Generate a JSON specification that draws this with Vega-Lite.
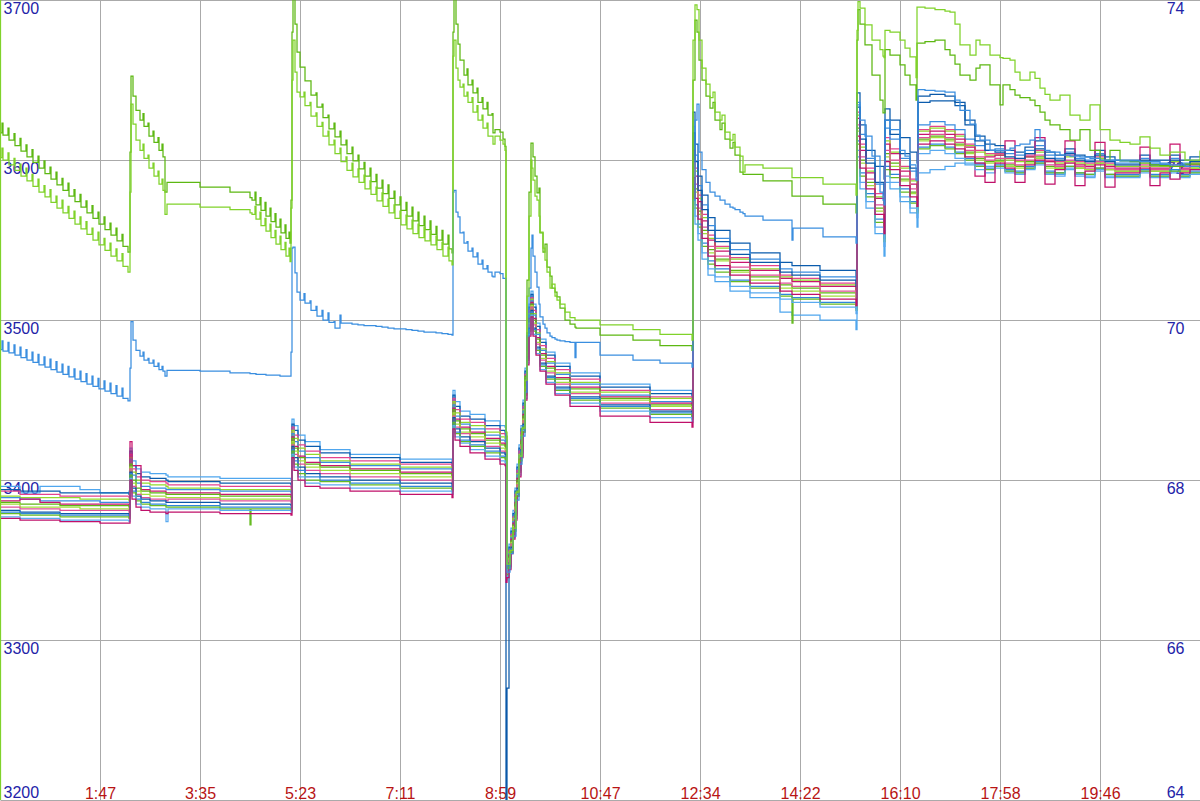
{
  "$schema": "https://vega.github.io/schema/vega-lite/v6.json",
  "width": 1200,
  "height": 800,
  "autosize": {"type": "none"},
  "padding": {"left": 0, "top": 0, "right": 0, "bottom": 1},
  "background": "#ffffff",
  "config": {
    "view": {"stroke": null},
    "axis": {
      "labelFont": "Liberation Sans",
      "labelFontSize": 16,
      "domain": false,
      "ticks": false,
      "tickSize": 0,
      "gridColor": "#aaaaaa",
      "gridOpacity": 1,
      "gridWidth": 1,
      "labelOverlap": false
    }
  },
  "datasets": {
    "cells": [
      {"n":0,"c01":3396,"c02":3394,"c03":3393,"c04":3390,"c05":3389,"c06":3387,"c07":3386,"c08":3385,"c09":3383,"c10":3381,"c11":3380,"c12":3379,"c13":3377,"c14":3376},
      {"n":20,"c01":3392,"c02":3393,"c03":3391,"c04":3389,"c05":3388,"c06":3388,"c07":3385,"c08":3383,"c09":3382,"c10":3380,"c11":3379,"c12":3378,"c13":3376,"c14":3375},
      {"n":40,"c01":3396,"c02":3393,"c03":3391,"c04":3389,"c05":3387,"c06":3386,"c07":3385,"c08":3383,"c09":3382,"c10":3380,"c11":3379,"c12":3378,"c13":3376,"c14":3375},
      {"n":60,"c01":3396,"c02":3392,"c03":3390,"c04":3389,"c05":3387,"c06":3385,"c07":3384,"c08":3383,"c09":3381,"c10":3379,"c11":3378,"c12":3377,"c13":3375,"c14":3374},
      {"n":80,"c01":3394,"c02":3392,"c03":3390,"c04":3388,"c05":3387,"c06":3385,"c07":3384,"c08":3382,"c09":3381,"c10":3379,"c11":3378,"c12":3377,"c13":3375,"c14":3374},
      {"n":100,"c01":3392,"c02":3392,"c03":3390,"c04":3388,"c05":3386,"c06":3385,"c07":3384,"c08":3382,"c09":3381,"c10":3379,"c11":3378,"c12":3377,"c13":3375,"c14":3373},
      {"n":129,"c01":3393,"c02":3391,"c03":3389,"c04":3387,"c05":3386,"c06":3384,"c07":3383,"c08":3381,"c09":3380,"c10":3378,"c11":3377,"c12":3376,"c13":3374,"c14":3373},
      {"n":130,"c01":3420,"c02":3418,"c03":3416,"c04":3414,"c05":3413,"c06":3424,"c07":3410,"c08":3408,"c09":3407,"c10":3405,"c11":3404,"c12":3403,"c13":3401,"c14":3400},
      {"n":132,"c01":3412,"c02":3409,"c03":3407,"c04":3405,"c05":3403,"c06":3409,"c07":3400,"c08":3398,"c09":3396,"c10":3395,"c11":3393,"c12":3392,"c13":3390,"c14":3388},
      {"n":136,"c01":3407,"c02":3404,"c03":3402,"c04":3400,"c05":3398,"c06":3409,"c07":3395,"c08":3393,"c09":3391,"c10":3390,"c11":3388,"c12":3387,"c13":3385,"c14":3383},
      {"n":141,"c01":3405,"c02":3402,"c03":3400,"c04":3398,"c05":3396,"c06":3394,"c07":3393,"c08":3391,"c09":3389,"c10":3388,"c11":3386,"c12":3385,"c13":3383,"c14":3381},
      {"n":150,"c01":3404,"c02":3401,"c03":3399,"c04":3397,"c05":3395,"c06":3393,"c07":3392,"c08":3390,"c09":3388,"c10":3387,"c11":3385,"c12":3384,"c13":3382,"c14":3380},
      {"n":166,"c01":3403,"c02":3400,"c03":3398,"c04":3396,"c05":3394,"c06":3392,"c07":3391,"c08":3389,"c09":3387,"c10":3386,"c11":3384,"c12":3383,"c13":3374,"c14":3379},
      {"n":168,"c01":3402,"c02":3399,"c03":3397,"c04":3395,"c05":3394,"c06":3392,"c07":3391,"c08":3389,"c09":3388,"c10":3386,"c11":3384,"c12":3383,"c13":3382,"c14":3380},
      {"n":220,"c01":3401,"c02":3398,"c03":3396,"c04":3394,"c05":3393,"c06":3391,"c07":3390,"c08":3388,"c09":3387,"c10":3385,"c11":3383,"c12":3382,"c13":3381,"c14":3379},
      {"n":250,"c01":3401,"c02":3398,"c03":3396,"c04":3394,"c05":3393,"c06":3391,"c07":3390,"c08":3388,"c09":3387,"c10":3385,"c11":3383,"c12":3372,"c13":3381,"c14":3379},
      {"n":251,"c01":3401,"c02":3398,"c03":3396,"c04":3394,"c05":3393,"c06":3391,"c07":3390,"c08":3388,"c09":3387,"c10":3385,"c11":3383,"c12":3382,"c13":3381,"c14":3379},
      {"n":291,"c01":3400,"c02":3397,"c03":3395,"c04":3393,"c05":3392,"c06":3390,"c07":3389,"c08":3387,"c09":3386,"c10":3384,"c11":3382,"c12":3381,"c13":3380,"c14":3378},
      {"n":292,"c01":3438,"c02":3435,"c03":3433,"c04":3431,"c05":3429,"c06":3427,"c07":3426,"c08":3424,"c09":3422,"c10":3421,"c11":3419,"c12":3418,"c13":3416,"c14":3414},
      {"n":294,"c01":3434,"c02":3431,"c03":3428,"c04":3426,"c05":3424,"c06":3421,"c07":3420,"c08":3418,"c09":3416,"c10":3414,"c11":3412,"c12":3410,"c13":3408,"c14":3406},
      {"n":298,"c01":3428,"c02":3425,"c03":3422,"c04":3420,"c05":3418,"c06":3415,"c07":3414,"c08":3412,"c09":3410,"c10":3408,"c11":3406,"c12":3404,"c13":3402,"c14":3400},
      {"n":305,"c01":3424,"c02":3421,"c03":3418,"c04":3416,"c05":3414,"c06":3411,"c07":3410,"c08":3408,"c09":3406,"c10":3404,"c11":3402,"c12":3400,"c13":3398,"c14":3396},
      {"n":320,"c01":3419,"c02":3417,"c03":3414,"c04":3412,"c05":3411,"c06":3409,"c07":3408,"c08":3406,"c09":3404,"c10":3402,"c11":3400,"c12":3399,"c13":3397,"c14":3395},
      {"n":350,"c01":3416,"c02":3414,"c03":3412,"c04":3410,"c05":3409,"c06":3407,"c07":3406,"c08":3404,"c09":3402,"c10":3400,"c11":3398,"c12":3397,"c13":3395,"c14":3393},
      {"n":400,"c01":3413,"c02":3411,"c03":3410,"c04":3408,"c05":3407,"c06":3405,"c07":3404,"c08":3402,"c09":3400,"c10":3398,"c11":3396,"c12":3395,"c13":3393,"c14":3391},
      {"n":452,"c01":3410,"c02":3408,"c03":3407,"c04":3406,"c05":3405,"c06":3403,"c07":3402,"c08":3400,"c09":3398,"c10":3396,"c11":3394,"c12":3393,"c13":3391,"c14":3389},
      {"n":453,"c01":3456,"c02":3453,"c03":3451,"c04":3449,"c05":3447,"c06":3445,"c07":3444,"c08":3442,"c09":3440,"c10":3439,"c11":3436,"c12":3436,"c13":3434,"c14":3432},
      {"n":455,"c01":3449,"c02":3446,"c03":3444,"c04":3442,"c05":3440,"c06":3438,"c07":3437,"c08":3435,"c09":3433,"c10":3432,"c11":3430,"c12":3429,"c13":3427,"c14":3425},
      {"n":460,"c01":3443,"c02":3440,"c03":3438,"c04":3436,"c05":3435,"c06":3433,"c07":3432,"c08":3430,"c09":3429,"c10":3427,"c11":3425,"c12":3424,"c13":3423,"c14":3421},
      {"n":470,"c01":3441,"c02":3438,"c03":3436,"c04":3434,"c05":3432,"c06":3430,"c07":3429,"c08":3427,"c09":3425,"c10":3424,"c11":3422,"c12":3421,"c13":3419,"c14":3417},
      {"n":485,"c01":3437,"c02":3434,"c03":3432,"c04":3430,"c05":3428,"c06":3426,"c07":3425,"c08":3423,"c09":3421,"c10":3420,"c11":3418,"c12":3417,"c13":3415,"c14":3413},
      {"n":500,"c01":3434,"c02":3431,"c03":3429,"c04":3427,"c05":3425,"c06":3423,"c07":3422,"c08":3420,"c09":3418,"c10":3417,"c11":3415,"c12":3414,"c13":3412,"c14":3410},
      {"n":505,"c01":3433,"c02":3430,"c03":3428,"c04":3426,"c05":3424,"c06":3422,"c07":3421,"c08":3419,"c09":3417,"c10":3416,"c11":3414,"c12":3413,"c13":3411,"c14":3409},
      {"n":506,"c01":3348,"c02":3347,"c03":3345,"c04":3344,"c05":3344,"c06":3343,"c07":3342,"c08":3341,"c09":3340,"c10":3150,"c11":3338,"c12":3338,"c13":3337,"c14":3336},
      {"n":507,"c01":3351,"c02":3350,"c03":3348,"c04":3347,"c05":3347,"c06":3346,"c07":3345,"c08":3344,"c09":3343,"c10":3270,"c11":3341,"c12":3341,"c13":3340,"c14":3339},
      {"n":509,"c01":3360,"c02":3358,"c03":3356,"c04":3355,"c05":3354,"c06":3353,"c07":3352,"c08":3351,"c09":3350,"c10":3348,"c11":3347,"c12":3346,"c13":3345,"c14":3344},
      {"n":511,"c01":3370,"c02":3368,"c03":3366,"c04":3365,"c05":3364,"c06":3363,"c07":3362,"c08":3361,"c09":3360,"c10":3358,"c11":3357,"c12":3356,"c13":3355,"c14":3354},
      {"n":513,"c01":3381,"c02":3379,"c03":3377,"c04":3376,"c05":3374,"c06":3373,"c07":3372,"c08":3371,"c09":3369,"c10":3368,"c11":3367,"c12":3366,"c13":3364,"c14":3363},
      {"n":515,"c01":3395,"c02":3393,"c03":3391,"c04":3389,"c05":3388,"c06":3386,"c07":3385,"c08":3383,"c09":3382,"c10":3380,"c11":3379,"c12":3378,"c13":3376,"c14":3375},
      {"n":517,"c01":3410,"c02":3408,"c03":3406,"c04":3404,"c05":3403,"c06":3401,"c07":3400,"c08":3398,"c09":3397,"c10":3395,"c11":3394,"c12":3393,"c13":3391,"c14":3390},
      {"n":519,"c01":3422,"c02":3420,"c03":3418,"c04":3416,"c05":3415,"c06":3413,"c07":3412,"c08":3410,"c09":3409,"c10":3407,"c11":3406,"c12":3405,"c13":3403,"c14":3402},
      {"n":521,"c01":3434,"c02":3432,"c03":3430,"c04":3428,"c05":3427,"c06":3425,"c07":3424,"c08":3422,"c09":3421,"c10":3419,"c11":3418,"c12":3417,"c13":3415,"c14":3414},
      {"n":523,"c01":3450,"c02":3448,"c03":3446,"c04":3444,"c05":3443,"c06":3441,"c07":3440,"c08":3438,"c09":3437,"c10":3435,"c11":3434,"c12":3433,"c13":3431,"c14":3430},
      {"n":525,"c01":3470,"c02":3468,"c03":3466,"c04":3464,"c05":3463,"c06":3461,"c07":3460,"c08":3458,"c09":3457,"c10":3455,"c11":3454,"c12":3453,"c13":3451,"c14":3450},
      {"n":527,"c01":3492,"c02":3490,"c03":3488,"c04":3486,"c05":3485,"c06":3483,"c07":3482,"c08":3480,"c09":3479,"c10":3477,"c11":3476,"c12":3475,"c13":3473,"c14":3472},
      {"n":529,"c01":3510,"c02":3508,"c03":3506,"c04":3504,"c05":3503,"c06":3501,"c07":3500,"c08":3498,"c09":3497,"c10":3495,"c11":3494,"c12":3493,"c13":3491,"c14":3490},
      {"n":531,"c01":3518,"c02":3516,"c03":3514,"c04":3513,"c05":3512,"c06":3511,"c07":3510,"c08":3509,"c09":3508,"c10":3506,"c11":3505,"c12":3504,"c13":3503,"c14":3502},
      {"n":533,"c01":3510,"c02":3508,"c03":3506,"c04":3504,"c05":3503,"c06":3501,"c07":3500,"c08":3498,"c09":3497,"c10":3495,"c11":3494,"c12":3493,"c13":3491,"c14":3490},
      {"n":536,"c01":3498,"c02":3496,"c03":3494,"c04":3492,"c05":3491,"c06":3489,"c07":3488,"c08":3486,"c09":3485,"c10":3483,"c11":3482,"c12":3481,"c13":3479,"c14":3478},
      {"n":540,"c01":3488,"c02":3486,"c03":3484,"c04":3482,"c05":3481,"c06":3479,"c07":3478,"c08":3476,"c09":3475,"c10":3473,"c11":3472,"c12":3471,"c13":3469,"c14":3468},
      {"n":546,"c01":3480,"c02":3478,"c03":3476,"c04":3474,"c05":3473,"c06":3471,"c07":3470,"c08":3468,"c09":3467,"c10":3465,"c11":3464,"c12":3463,"c13":3461,"c14":3460},
      {"n":555,"c01":3473,"c02":3471,"c03":3469,"c04":3467,"c05":3466,"c06":3464,"c07":3463,"c08":3461,"c09":3460,"c10":3458,"c11":3457,"c12":3456,"c13":3454,"c14":3453},
      {"n":570,"c01":3467,"c02":3465,"c03":3463,"c04":3461,"c05":3460,"c06":3458,"c07":3457,"c08":3455,"c09":3454,"c10":3452,"c11":3451,"c12":3450,"c13":3448,"c14":3446},
      {"n":600,"c01":3460,"c02":3458,"c03":3456,"c04":3455,"c05":3453,"c06":3452,"c07":3451,"c08":3450,"c09":3448,"c10":3447,"c11":3446,"c12":3445,"c13":3443,"c14":3440},
      {"n":650,"c01":3456,"c02":3454,"c03":3452,"c04":3451,"c05":3449,"c06":3448,"c07":3447,"c08":3446,"c09":3444,"c10":3443,"c11":3442,"c12":3441,"c13":3439,"c14":3436},
      {"n":692,"c01":3453,"c02":3451,"c03":3449,"c04":3448,"c05":3446,"c06":3445,"c07":3444,"c08":3443,"c09":3441,"c10":3440,"c11":3439,"c12":3438,"c13":3436,"c14":3433},
      {"n":693,"c01":3570,"c02":3630,"c03":3612,"c04":3609,"c05":3621,"c06":3606,"c07":3597,"c08":3594,"c09":3600,"c10":3617,"c11":3585,"c12":3582,"c13":3576,"c14":3589},
      {"n":695,"c01":3560,"c02":3610,"c03":3595,"c04":3593,"c05":3603,"c06":3590,"c07":3582,"c08":3580,"c09":3585,"c10":3599,"c11":3572,"c12":3570,"c13":3565,"c14":3576},
      {"n":698,"c01":3550,"c02":3590,"c03":3578,"c04":3576,"c05":3584,"c06":3574,"c07":3568,"c08":3566,"c09":3570,"c10":3581,"c11":3560,"c12":3558,"c13":3554,"c14":3563},
      {"n":702,"c01":3538,"c02":3578,"c03":3566,"c04":3564,"c05":3572,"c06":3562,"c07":3556,"c08":3554,"c09":3558,"c10":3569,"c11":3548,"c12":3546,"c13":3542,"c14":3551},
      {"n":708,"c01":3528,"c02":3564,"c03":3553,"c04":3551,"c05":3559,"c06":3550,"c07":3544,"c08":3542,"c09":3546,"c10":3556,"c11":3537,"c12":3535,"c13":3532,"c14":3540},
      {"n":715,"c01":3524,"c02":3556,"c03":3546,"c04":3545,"c05":3551,"c06":3543,"c07":3538,"c08":3537,"c09":3540,"c10":3549,"c11":3532,"c12":3530,"c13":3527,"c14":3534},
      {"n":730,"c01":3518,"c02":3548,"c03":3539,"c04":3538,"c05":3544,"c06":3536,"c07":3531,"c08":3530,"c09":3533,"c10":3541,"c11":3525,"c12":3524,"c13":3521,"c14":3528},
      {"n":750,"c01":3514,"c02":3542,"c03":3534,"c04":3532,"c05":3538,"c06":3531,"c07":3527,"c08":3525,"c09":3528,"c10":3536,"c11":3521,"c12":3520,"c13":3517,"c14":3523},
      {"n":780,"c01":3505,"c02":3536,"c03":3528,"c04":3527,"c05":3532,"c06":3526,"c07":3522,"c08":3520,"c09":3523,"c10":3530,"c11":3516,"c12":3515,"c13":3513,"c14":3518},
      {"n":792,"c01":3503,"c02":3534,"c03":3526,"c04":3525,"c05":3530,"c06":3524,"c07":3520,"c08":3518,"c09":3521,"c10":3528,"c11":3514,"c12":3498,"c13":3511,"c14":3516},
      {"n":793,"c01":3503,"c02":3534,"c03":3526,"c04":3525,"c05":3530,"c06":3524,"c07":3520,"c08":3518,"c09":3521,"c10":3528,"c11":3514,"c12":3513,"c13":3511,"c14":3516},
      {"n":820,"c01":3500,"c02":3531,"c03":3523,"c04":3522,"c05":3527,"c06":3521,"c07":3517,"c08":3515,"c09":3518,"c10":3525,"c11":3511,"c12":3510,"c13":3508,"c14":3513},
      {"n":856,"c01":3494,"c02":3527,"c03":3519,"c04":3518,"c05":3523,"c06":3517,"c07":3513,"c08":3511,"c09":3514,"c10":3521,"c11":3507,"c12":3506,"c13":3504,"c14":3509},
      {"n":857,"c01":3602,"c02":3642,"c03":3630,"c04":3628,"c05":3636,"c06":3626,"c07":3620,"c08":3618,"c09":3622,"c10":3633,"c11":3612,"c12":3610,"c13":3606,"c14":3615},
      {"n":860,"c01":3582,"c02":3622,"c03":3610,"c04":3608,"c05":3616,"c06":3606,"c07":3600,"c08":3598,"c09":3602,"c10":3613,"c11":3592,"c12":3590,"c13":3586,"c14":3595},
      {"n":866,"c01":3570,"c02":3606,"c03":3595,"c04":3593,"c05":3601,"c06":3592,"c07":3586,"c08":3584,"c09":3588,"c10":3598,"c11":3579,"c12":3577,"c13":3574,"c14":3582},
      {"n":875,"c01":3554,"c02":3596,"c03":3579,"c04":3577,"c05":3585,"c06":3576,"c07":3570,"c08":3568,"c09":3572,"c10":3586,"c11":3563,"c12":3561,"c13":3558,"c14":3566},
      {"n":884,"c01":3540,"c02":3588,"c03":3567,"c04":3565,"c05":3575,"c06":3564,"c07":3558,"c08":3556,"c09":3560,"c10":3578,"c11":3551,"c12":3549,"c13":3546,"c14":3554},
      {"n":885,"c01":3586,"c02":3632,"c03":3614,"c04":3612,"c05":3620,"c06":3610,"c07":3604,"c08":3602,"c09":3606,"c10":3625,"c11":3596,"c12":3594,"c13":3590,"c14":3599},
      {"n":890,"c01":3582,"c02":3625,"c03":3607,"c04":3605,"c05":3613,"c06":3604,"c07":3598,"c08":3596,"c09":3600,"c10":3616,"c11":3591,"c12":3589,"c13":3586,"c14":3594},
      {"n":900,"c01":3574,"c02":3614,"c03":3596,"c04":3595,"c05":3601,"c06":3593,"c07":3588,"c08":3587,"c09":3590,"c10":3604,"c11":3582,"c12":3580,"c13":3577,"c14":3584},
      {"n":910,"c01":3567,"c02":3605,"c03":3588,"c04":3587,"c05":3593,"c06":3585,"c07":3580,"c08":3579,"c09":3582,"c10":3595,"c11":3574,"c12":3573,"c13":3570,"c14":3577},
      {"n":917,"c01":3558,"c02":3598,"c03":3582,"c04":3581,"c05":3587,"c06":3579,"c07":3574,"c08":3573,"c09":3576,"c10":3590,"c11":3568,"c12":3567,"c13":3564,"c14":3571},
      {"n":918,"c01":3592,"c02":3636,"c03":3619,"c04":3618,"c05":3622,"c06":3616,"c07":3613,"c08":3612,"c09":3614,"c10":3640,"c11":3608,"c12":3607,"c13":3604,"c14":3610},
      {"n":930,"c01":3594,"c02":3637,"c03":3621,"c04":3620,"c05":3624,"c06":3618,"c07":3615,"c08":3614,"c09":3616,"c10":3641,"c11":3610,"c12":3609,"c13":3606,"c14":3612},
      {"n":945,"c01":3596,"c02":3637,"c03":3619,"c04":3618,"c05":3622,"c06":3616,"c07":3613,"c08":3612,"c09":3614,"c10":3640,"c11":3608,"c12":3607,"c13":3604,"c14":3610},
      {"n":955,"c01":3598,"c02":3634,"c03":3616,"c04":3615,"c05":3619,"c06":3613,"c07":3610,"c08":3609,"c09":3611,"c10":3636,"c11":3605,"c12":3604,"c13":3601,"c14":3607},
      {"n":965,"c01":3597,"c02":3625,"c03":3610,"c04":3609,"c05":3613,"c06":3608,"c07":3605,"c08":3604,"c09":3606,"c10":3622,"c11":3601,"c12":3600,"c13":3598,"c14":3602},
      {"n":975,"c01":3598,"c02":3615,"c03":3606,"c04":3605,"c05":3609,"c06":3590,"c07":3601,"c08":3600,"c09":3602,"c10":3612,"c11":3597,"c12":3596,"c13":3594,"c14":3598},
      {"n":985,"c01":3596,"c02":3610,"c03":3604,"c04":3603,"c05":3606,"c06":3602,"c07":3599,"c08":3598,"c09":3600,"c10":3606,"c11":3595,"c12":3594,"c13":3592,"c14":3586},
      {"n":995,"c01":3596,"c02":3609,"c03":3604,"c04":3603,"c05":3607,"c06":3603,"c07":3600,"c08":3599,"c09":3601,"c10":3605,"c11":3597,"c12":3596,"c13":3595,"c14":3598},
      {"n":1005,"c01":3593,"c02":3606,"c03":3601,"c04":3600,"c05":3604,"c06":3612,"c07":3597,"c08":3596,"c09":3598,"c10":3602,"c11":3594,"c12":3593,"c13":3592,"c14":3595},
      {"n":1015,"c01":3592,"c02":3605,"c03":3600,"c04":3599,"c05":3603,"c06":3596,"c07":3596,"c08":3595,"c09":3597,"c10":3601,"c11":3593,"c12":3592,"c13":3591,"c14":3586},
      {"n":1025,"c01":3595,"c02":3608,"c03":3603,"c04":3602,"c05":3606,"c06":3602,"c07":3599,"c08":3598,"c09":3600,"c10":3604,"c11":3596,"c12":3595,"c13":3594,"c14":3597},
      {"n":1035,"c01":3598,"c02":3612,"c03":3606,"c04":3605,"c05":3609,"c06":3614,"c07":3602,"c08":3601,"c09":3603,"c10":3607,"c11":3599,"c12":3598,"c13":3597,"c14":3600},
      {"n":1045,"c01":3592,"c02":3605,"c03":3600,"c04":3599,"c05":3603,"c06":3599,"c07":3596,"c08":3595,"c09":3597,"c10":3601,"c11":3593,"c12":3592,"c13":3591,"c14":3585},
      {"n":1055,"c01":3591,"c02":3603,"c03":3599,"c04":3598,"c05":3601,"c06":3597,"c07":3595,"c08":3595,"c09":3596,"c10":3600,"c11":3592,"c12":3592,"c13":3590,"c14":3594},
      {"n":1065,"c01":3595,"c02":3607,"c03":3603,"c04":3602,"c05":3605,"c06":3612,"c07":3599,"c08":3599,"c09":3600,"c10":3604,"c11":3596,"c12":3596,"c13":3594,"c14":3598},
      {"n":1075,"c01":3591,"c02":3603,"c03":3599,"c04":3598,"c05":3601,"c06":3597,"c07":3595,"c08":3595,"c09":3596,"c10":3600,"c11":3592,"c12":3592,"c13":3590,"c14":3584},
      {"n":1085,"c01":3590,"c02":3602,"c03":3598,"c04":3597,"c05":3600,"c06":3596,"c07":3594,"c08":3594,"c09":3595,"c10":3599,"c11":3591,"c12":3591,"c13":3589,"c14":3593},
      {"n":1095,"c01":3594,"c02":3606,"c03":3602,"c04":3601,"c05":3604,"c06":3611,"c07":3598,"c08":3598,"c09":3599,"c10":3603,"c11":3595,"c12":3595,"c13":3593,"c14":3597},
      {"n":1105,"c01":3590,"c02":3602,"c03":3598,"c04":3597,"c05":3600,"c06":3596,"c07":3594,"c08":3594,"c09":3595,"c10":3599,"c11":3591,"c12":3591,"c13":3589,"c14":3583},
      {"n":1115,"c01":3590,"c02":3600,"c03":3596,"c04":3596,"c05":3598,"c06":3595,"c07":3593,"c08":3593,"c09":3594,"c10":3597,"c11":3591,"c12":3590,"c13":3589,"c14":3592},
      {"n":1130,"c01":3590,"c02":3600,"c03":3596,"c04":3596,"c05":3598,"c06":3595,"c07":3593,"c08":3593,"c09":3594,"c10":3597,"c11":3591,"c12":3590,"c13":3589,"c14":3592},
      {"n":1140,"c01":3593,"c02":3603,"c03":3599,"c04":3599,"c05":3601,"c06":3608,"c07":3596,"c08":3596,"c09":3597,"c10":3600,"c11":3594,"c12":3593,"c13":3592,"c14":3595},
      {"n":1150,"c01":3590,"c02":3600,"c03":3596,"c04":3596,"c05":3598,"c06":3595,"c07":3593,"c08":3593,"c09":3594,"c10":3597,"c11":3591,"c12":3590,"c13":3589,"c14":3584},
      {"n":1160,"c01":3590,"c02":3600,"c03":3596,"c04":3596,"c05":3598,"c06":3595,"c07":3593,"c08":3593,"c09":3594,"c10":3597,"c11":3591,"c12":3590,"c13":3589,"c14":3592},
      {"n":1170,"c01":3593,"c02":3603,"c03":3599,"c04":3599,"c05":3601,"c06":3610,"c07":3596,"c08":3596,"c09":3597,"c10":3600,"c11":3594,"c12":3593,"c13":3592,"c14":3588},
      {"n":1180,"c01":3590,"c02":3600,"c03":3596,"c04":3596,"c05":3598,"c06":3595,"c07":3593,"c08":3593,"c09":3594,"c10":3597,"c11":3591,"c12":3590,"c13":3589,"c14":3592},
      {"n":1190,"c01":3592,"c02":3602,"c03":3598,"c04":3598,"c05":3600,"c06":3597,"c07":3595,"c08":3595,"c09":3596,"c10":3599,"c11":3593,"c12":3592,"c13":3591,"c14":3594},
      {"n":1200,"c01":3592,"c02":3602,"c03":3598,"c04":3598,"c05":3600,"c06":3597,"c07":3595,"c08":3595,"c09":3596,"c10":3599,"c11":3593,"c12":3592,"c13":3591,"c14":3594}
    ],
    "pack": [
      {"n":0,"g1":72.34,"b1":69.63},
      {"n":0.5,"g2":62},
      {"n":0.5,"g2":75},
      {"n":0.5,"g2":72.03},
      {"n":2,"g1":72.46,"g2":72.15,"b1":69.74},{"n":3,"g1":72.31,"g2":72.00,"b1":69.61},
      {"n":8,"g1":72.40,"g2":72.09,"b1":69.72},{"n":9,"g1":72.25,"g2":71.94,"b1":69.59},
      {"n":14,"g1":72.33,"g2":72.02,"b1":69.69},{"n":15,"g1":72.18,"g2":71.87,"b1":69.56},
      {"n":20,"g1":72.27,"g2":71.95,"b1":69.66},{"n":21,"g1":72.11,"g2":71.80,"b1":69.53},
      {"n":26,"g1":72.19,"g2":71.90,"b1":69.63},{"n":27,"g1":72.04,"g2":71.74,"b1":69.50},
      {"n":32,"g1":72.13,"g2":71.82,"b1":69.60},{"n":33,"g1":71.97,"g2":71.67,"b1":69.47},
      {"n":38,"g1":72.05,"g2":71.76,"b1":69.57},{"n":39,"g1":71.90,"g2":71.60,"b1":69.44},
      {"n":44,"g1":71.99,"g2":71.68,"b1":69.54},{"n":45,"g1":71.83,"g2":71.54,"b1":69.41},
      {"n":50,"g1":71.91,"g2":71.63,"b1":69.51},{"n":51,"g1":71.76,"g2":71.47,"b1":69.38},
      {"n":56,"g1":71.85,"g2":71.55,"b1":69.48},{"n":57,"g1":71.69,"g2":71.40,"b1":69.35},
      {"n":62,"g1":71.77,"g2":71.50,"b1":69.45},{"n":63,"g1":71.62,"g2":71.34,"b1":69.32},
      {"n":68,"g1":71.71,"g2":71.42,"b1":69.42},{"n":69,"g1":71.55,"g2":71.27,"b1":69.29},
      {"n":74,"g1":71.63,"g2":71.36,"b1":69.39},{"n":75,"g1":71.48,"g2":71.20,"b1":69.26},
      {"n":80,"g1":71.57,"g2":71.29,"b1":69.36},{"n":81,"g1":71.41,"g2":71.14,"b1":69.23},
      {"n":86,"g1":71.49,"g2":71.23,"b1":69.33},{"n":87,"g1":71.34,"g2":71.07,"b1":69.20},
      {"n":92,"g1":71.43,"g2":71.15,"b1":69.30},{"n":93,"g1":71.27,"g2":71.00,"b1":69.17},
      {"n":98,"g1":71.35,"g2":71.10,"b1":69.27},{"n":99,"g1":71.20,"g2":70.94,"b1":69.14},
      {"n":104,"g1":71.29,"g2":71.02,"b1":69.24},{"n":105,"g1":71.13,"g2":70.87,"b1":69.11},
      {"n":110,"g1":71.21,"g2":70.96,"b1":69.21},{"n":111,"g1":71.06,"g2":70.80,"b1":69.08},
      {"n":116,"g1":71.15,"g2":70.89,"b1":69.18},{"n":117,"g1":70.99,"g2":70.74,"b1":69.05},
      {"n":122,"g1":71.07,"g2":70.83,"b1":69.15},{"n":123,"g1":70.92,"g2":70.67,"b1":69.02},
      {"n":128,"g1":70.85,"g2":70.60,"b1":68.99},
      {"n":130,"g1":72.10,"g2":71.60,"b1":69.40},
      {"n":131,"g1":73.05,"g2":72.70,"b1":69.98},
      {"n":133,"g1":72.80,"g2":72.45,"b1":69.75},
      {"n":136,"g1":72.62,"g2":72.25,"b1":69.62},
      {"n":140,"g1":72.50,"g2":72.12,"b1":69.55},
      {"n":143,"g1":72.58,"g2":72.20,"b1":69.60},
      {"n":144,"g1":72.42,"g2":72.02,"b1":69.50},
      {"n":148,"g1":72.46,"g2":72.06,"b1":69.52},
      {"n":149,"g1":72.30,"g2":71.90,"b1":69.46},
      {"n":153,"g1":72.36,"g2":71.96,"b1":69.50},
      {"n":154,"g1":72.22,"g2":71.80,"b1":69.42},
      {"n":158,"g1":72.28,"g2":71.86,"b1":69.46},
      {"n":159,"g1":72.12,"g2":71.70,"b1":69.38},
      {"n":162,"g1":72.20,"g2":71.76,"b1":69.42},
      {"n":163,"g1":72.04,"g2":71.62,"b1":69.36},
      {"n":165,"g1":71.60,"g2":71.32,"b1":69.30},
      {"n":167,"g1":71.72,"g2":71.45,"b1":69.37},
      {"n":200,"g1":71.66,"g2":71.41,"b1":69.36},
      {"n":230,"g1":71.60,"g2":71.38,"b1":69.34},
      {"n":250,"g1":71.53,"g2":71.34,"b1":69.33},
      {"n":252,"g1":71.50,"g2":71.32,"b1":69.33},
      {"n":255,"g1":71.60,"g2":71.42,"b1":69.33},{"n":256,"g1":71.44,"g2":71.26,"b1":69.32},
      {"n":260,"g1":71.53,"g2":71.35,"b1":69.32},{"n":261,"g1":71.37,"g2":71.18,"b1":69.32},
      {"n":265,"g1":71.47,"g2":71.27,"b1":69.32},{"n":266,"g1":71.30,"g2":71.11,"b1":69.31},
      {"n":270,"g1":71.40,"g2":71.20,"b1":69.31},{"n":271,"g1":71.23,"g2":71.03,"b1":69.31},
      {"n":275,"g1":71.33,"g2":71.12,"b1":69.31},{"n":276,"g1":71.16,"g2":70.95,"b1":69.31},
      {"n":280,"g1":71.26,"g2":71.05,"b1":69.30},{"n":281,"g1":71.09,"g2":70.88,"b1":69.30},
      {"n":285,"g1":71.19,"g2":70.97,"b1":69.30},{"n":286,"g1":71.02,"g2":70.80,"b1":69.30},
      {"n":289,"g1":71.10,"g2":70.90,"b1":69.30},{"n":290,"g1":70.96,"g2":70.73,"b1":69.30},
      {"n":291,"g1":71.5,"g2":71.4,"b1":69.6},
      {"n":292,"g1":73.6,"g2":73.0,"b1":70.9},
      {"n":293,"g1":74.1,"g2":73.5,"b1":70.91},
      {"n":295,"g1":73.7,"g2":73.1,"b1":70.59},
      {"n":297,"g1":73.35,"g2":72.85,"b1":70.35},
      {"n":300,"g1":73.16,"g2":72.79,"b1":70.25},
      {"n":304,"g1":73.16,"g2":72.85,"b1":70.33},{"n":305,"g1":72.99,"g2":72.68,"b1":70.21},
      {"n":310,"g1":72.99,"g2":72.72,"b1":70.24},{"n":311,"g1":72.81,"g2":72.55,"b1":70.12},
      {"n":316,"g1":72.84,"g2":72.59,"b1":70.17},{"n":317,"g1":72.66,"g2":72.42,"b1":70.05},
      {"n":322,"g1":72.70,"g2":72.47,"b1":70.12},{"n":323,"g1":72.53,"g2":72.30,"b1":70.00},
      {"n":328,"g1":72.56,"g2":72.36,"b1":70.09},{"n":329,"g1":72.39,"g2":72.19,"b1":69.97},
      {"n":334,"g1":72.46,"g2":72.25,"b1":69.98},{"n":335,"g1":72.29,"g2":72.08,"b1":69.90},
      {"n":340,"g1":72.36,"g2":72.15,"b1":70.06},{"n":341,"g1":72.19,"g2":71.98,"b1":69.96},
      {"n":346,"g1":72.25,"g2":72.04,"b1":69.96},{"n":347,"g1":72.08,"g2":71.87,"b1":69.96},
      {"n":352,"g1":72.16,"g2":71.96,"b1":69.95},{"n":353,"g1":71.99,"g2":71.79,"b1":69.95},
      {"n":358,"g1":72.06,"g2":71.89,"b1":69.94},{"n":359,"g1":71.89,"g2":71.72,"b1":69.94},
      {"n":364,"g1":71.97,"g2":71.81,"b1":69.93},{"n":365,"g1":71.80,"g2":71.64,"b1":69.93},
      {"n":370,"g1":71.90,"g2":71.74,"b1":69.93},{"n":371,"g1":71.73,"g2":71.57,"b1":69.93},
      {"n":376,"g1":71.82,"g2":71.66,"b1":69.92},{"n":377,"g1":71.65,"g2":71.49,"b1":69.92},
      {"n":382,"g1":71.75,"g2":71.59,"b1":69.91},{"n":383,"g1":71.58,"g2":71.42,"b1":69.91},
      {"n":388,"g1":71.69,"g2":71.51,"b1":69.90},{"n":389,"g1":71.52,"g2":71.34,"b1":69.90},
      {"n":394,"g1":71.61,"g2":71.44,"b1":69.89},{"n":395,"g1":71.44,"g2":71.27,"b1":69.89},
      {"n":400,"g1":71.54,"g2":71.36,"b1":69.89},{"n":401,"g1":71.37,"g2":71.19,"b1":69.89},
      {"n":406,"g1":71.47,"g2":71.31,"b1":69.88},{"n":407,"g1":71.30,"g2":71.14,"b1":69.88},
      {"n":412,"g1":71.41,"g2":71.25,"b1":69.87},{"n":413,"g1":71.24,"g2":71.08,"b1":69.87},
      {"n":418,"g1":71.35,"g2":71.20,"b1":69.86},{"n":419,"g1":71.18,"g2":71.03,"b1":69.86},
      {"n":424,"g1":71.30,"g2":71.16,"b1":69.85},{"n":425,"g1":71.13,"g2":70.99,"b1":69.85},
      {"n":430,"g1":71.24,"g2":71.11,"b1":69.85},{"n":431,"g1":71.07,"g2":70.94,"b1":69.85},
      {"n":436,"g1":71.17,"g2":71.05,"b1":69.84},{"n":437,"g1":71.00,"g2":70.88,"b1":69.84},
      {"n":442,"g1":71.12,"g2":70.97,"b1":69.83},{"n":443,"g1":70.95,"g2":70.80,"b1":69.83},
      {"n":448,"g1":71.06,"g2":70.91,"b1":69.82},{"n":449,"g1":70.89,"g2":70.74,"b1":69.82},
      {"n":452,"g1":70.84,"g2":70.69,"b1":69.81},
      {"n":453,"g1":73.6,"g2":73.3,"b1":71.6},
      {"n":454,"g1":74.1,"g2":73.5,"b1":71.62},
      {"n":456,"g1":73.7,"g2":73.15,"b1":71.35},
      {"n":458,"g1":73.45,"g2":73.0,"b1":71.29},
      {"n":460,"g1":73.25,"g2":72.91,"b1":71.09},
      {"n":463,"g1":73.25,"g2":72.95,"b1":71.10},
      {"n":464,"g1":73.06,"g2":72.8,"b1":70.96},
      {"n":467,"g1":73.14,"g2":72.85,"b1":70.98},
      {"n":468,"g1":72.94,"g2":72.72,"b1":70.86},
      {"n":472,"g1":73.0,"g2":72.78,"b1":70.9},
      {"n":473,"g1":72.84,"g2":72.6,"b1":70.79},
      {"n":477,"g1":72.9,"g2":72.68,"b1":70.84},
      {"n":478,"g1":72.72,"g2":72.5,"b1":70.7},
      {"n":482,"g1":72.78,"g2":72.56,"b1":70.75},
      {"n":483,"g1":72.64,"g2":72.4,"b1":70.64},
      {"n":487,"g1":72.72,"g2":72.46,"b1":70.68},
      {"n":488,"g1":72.56,"g2":72.3,"b1":70.6},
      {"n":492,"g1":72.58,"g2":72.3,"b1":70.55},
      {"n":493,"g1":72.34,"g2":72.2,"b1":70.54},
      {"n":495,"g1":72.38,"g2":72.3,"b1":70.6},
      {"n":500,"g1":72.35,"g2":72.25,"b1":70.58},
      {"n":503,"g1":72.26,"g2":72.2,"b1":70.52},
      {"n":505,"g1":72.17,"g2":72.12,"b1":70.52},
      {"n":506,"g1":68.55,"g2":68.6,"b1":68.5},
      {"n":507,"g1":66.9,"g2":66.95,"b1":66.85},
      {"n":510,"g1":67.1,"g2":67.12,"b1":67.08},
      {"n":513,"g1":67.36,"g2":67.4,"b1":67.3},
      {"n":516,"g1":67.8,"g2":67.85,"b1":67.75},
      {"n":519,"g1":68.24,"g2":68.3,"b1":68.2},
      {"n":522,"g1":68.6,"g2":68.65,"b1":68.55},
      {"n":525,"g1":69.3,"g2":69.25,"b1":69.1},
      {"n":527,"g1":70.5,"g2":70.3,"b1":69.8},
      {"n":529,"g1":71.6,"g2":71.3,"b1":70.4},
      {"n":531,"g1":72.21,"g2":72.0,"b1":70.9},
      {"n":532,"g1":72.21,"g2":71.9,"b1":71.06},
      {"n":533,"g1":72.04,"g2":71.75,"b1":70.8},
      {"n":535,"g1":71.8,"g2":71.55,"b1":70.6},
      {"n":537,"g1":71.59,"g2":71.5,"b1":70.41},
      {"n":539,"g1":71.65,"g2":71.3,"b1":70.2},
      {"n":540,"g1":71.09,"g2":71.1,"b1":70.04},
      {"n":543,"g1":70.85,"g2":70.9,"b1":69.95},
      {"n":545,"g1":70.95,"g2":70.75,"b1":69.9},
      {"n":547,"g1":70.66,"g2":70.6,"b1":69.84},
      {"n":550,"g1":70.55,"g2":70.4,"b1":69.8},
      {"n":552,"g1":70.4,"g2":70.45,"b1":69.78},
      {"n":555,"g1":70.35,"g2":70.3,"b1":69.76},
      {"n":557,"g1":70.29,"g2":70.25,"b1":69.75},
      {"n":560,"g1":70.15,"g2":70.2,"b1":69.74},
      {"n":565,"g1":70.0,"g2":70.1,"b1":69.73},
      {"n":570,"g1":69.95,"g2":70.03,"b1":69.72},
      {"n":575,"g1":69.91,"g2":70.0,"b1":69.53},
      {"n":576,"g1":69.9,"g2":70.0,"b1":69.72},
      {"n":600,"g1":69.81,"g2":69.94,"b1":69.56},
      {"n":633,"g1":69.75,"g2":69.88,"b1":69.5},
      {"n":660,"g1":69.68,"g2":69.82,"b1":69.46},
      {"n":692,"g1":69.62,"g2":69.75,"b1":69.41},
      {"n":693,"g1":73.0,"g2":73.5,"b1":71.5},
      {"n":695,"g1":73.75,"g2":73.94,"b1":72.5},
      {"n":697,"g1":73.6,"g2":73.88,"b1":72.7},
      {"n":699,"g1":73.25,"g2":73.5,"b1":72.1},
      {"n":702,"g1":73.0,"g2":73.15,"b1":71.88},
      {"n":706,"g1":72.8,"g2":72.95,"b1":71.72},
      {"n":710,"g1":72.65,"g2":72.78,"b1":71.6},
      {"n":713,"g1":72.72,"g2":72.85,"b1":71.6},
      {"n":715,"g1":72.5,"g2":72.6,"b1":71.55},
      {"n":720,"g1":72.38,"g2":72.5,"b1":71.5},
      {"n":722,"g1":72.46,"g2":72.56,"b1":71.5},
      {"n":725,"g1":72.26,"g2":72.35,"b1":71.45},
      {"n":730,"g1":72.15,"g2":72.25,"b1":71.41},
      {"n":733,"g1":72.22,"g2":72.32,"b1":71.4},
      {"n":735,"g1":72.06,"g2":72.16,"b1":71.38},
      {"n":740,"g1":71.85,"g2":72.05,"b1":71.35},
      {"n":743,"g1":71.82,"g2":71.85,"b1":71.33},
      {"n":745,"g1":71.82,"g2":71.94,"b1":71.3},
      {"n":763,"g1":71.74,"g2":71.9,"b1":71.25},
      {"n":792,"g1":71.55,"g2":71.78,"b1":71.0},
      {"n":793,"g1":71.55,"g2":71.78,"b1":71.15},
      {"n":823,"g1":71.45,"g2":71.7,"b1":71.04},
      {"n":856,"g1":71.34,"g2":71.56,"b1":70.96},
      {"n":857,"g1":73.5,"g2":73.62,"b1":72.69},
      {"n":858,"g1":73.88,"g2":73.98,"b1":72.69},
      {"n":860,"g1":73.7,"g2":73.9,"b1":72.5},
      {"n":865,"g1":73.44,"g2":73.69,"b1":72.3},
      {"n":872,"g1":73.06,"g2":73.5,"b1":72.05},
      {"n":880,"g1":72.75,"g2":73.38,"b1":71.6},
      {"n":883,"g1":72.59,"g2":73.3,"b1":71.5},
      {"n":884,"g1":72.59,"g2":73.28,"b1":71.44},
      {"n":885,"g1":73.38,"g2":73.62,"b1":72.5},
      {"n":890,"g1":73.31,"g2":73.6,"b1":72.38},
      {"n":900,"g1":73.19,"g2":73.5,"b1":72.12},
      {"n":905,"g1":73.06,"g2":73.4,"b1":72.05},
      {"n":910,"g1":72.94,"g2":73.29,"b1":71.94},
      {"n":916,"g1":72.75,"g2":73.03,"b1":71.75},
      {"n":917,"g1":73.46,"g2":73.91,"b1":71.75},
      {"n":918,"g1":73.46,"g2":73.91,"b1":72.88},
      {"n":925,"g1":73.48,"g2":73.9,"b1":72.87},
      {"n":935,"g1":73.5,"g2":73.88,"b1":72.86},
      {"n":945,"g1":73.38,"g2":73.86,"b1":72.85},
      {"n":950,"g1":73.31,"g2":73.85,"b1":72.85},
      {"n":955,"g1":73.2,"g2":73.7,"b1":72.75},
      {"n":960,"g1":73.06,"g2":73.44,"b1":72.62},
      {"n":970,"g1":73.0,"g2":73.31,"b1":72.45},
      {"n":976,"g1":73.15,"g2":73.5,"b1":72.31},
      {"n":980,"g1":73.19,"g2":73.44,"b1":72.25},
      {"n":990,"g1":72.94,"g2":73.31,"b1":72.12},
      {"n":1000,"g1":72.69,"g2":73.28,"b1":72.12},
      {"n":1003,"g1":72.94,"g2":73.27,"b1":72.12},
      {"n":1010,"g1":72.88,"g2":73.25,"b1":72.15},
      {"n":1015,"g1":72.81,"g2":73.1,"b1":72.18},
      {"n":1020,"g1":72.78,"g2":73.0,"b1":72.2},
      {"n":1030,"g1":72.75,"g2":73.1,"b1":72.25},
      {"n":1035,"g1":72.68,"g2":73.02,"b1":72.38},
      {"n":1040,"g1":72.6,"g2":72.9,"b1":72.25},
      {"n":1045,"g1":72.5,"g2":72.82,"b1":72.12},
      {"n":1050,"g1":72.44,"g2":72.75,"b1":72.1},
      {"n":1060,"g1":72.38,"g2":72.81,"b1":72.06},
      {"n":1070,"g1":72.25,"g2":72.56,"b1":72.05},
      {"n":1080,"g1":72.38,"g2":72.5,"b1":72.04},
      {"n":1090,"g1":72.12,"g2":72.69,"b1":72.02},
      {"n":1100,"g1":72.0,"g2":72.38,"b1":72.0},
      {"n":1110,"g1":72.12,"g2":72.25,"b1":72.0},
      {"n":1120,"g1":71.99,"g2":72.22,"b1":71.99},
      {"n":1130,"g1":71.98,"g2":72.2,"b1":71.99},
      {"n":1140,"g1":71.96,"g2":72.29,"b1":71.98},
      {"n":1150,"g1":71.94,"g2":72.15,"b1":71.98},
      {"n":1160,"g1":71.93,"g2":72.06,"b1":71.95},
      {"n":1170,"g1":71.92,"g2":72.1,"b1":71.94},
      {"n":1185,"g1":71.95,"g2":72.0,"b1":71.92},
      {"n":1200,"g1":71.9,"g2":72.12,"b1":71.9}
    ]
  },
  "encoding": {
    "x": {
      "field": "n",
      "type": "quantitative",
      "scale": {"domain": [0, 1200], "nice": false, "zero": false},
      "axis": {
        "orient": "bottom",
        "title": null,
        "values": [100, 200, 300, 400, 500, 600, 700, 800, 900, 1000, 1100],
        "labelExpr": "floor(datum.value*1.07842/60) + ':' + (floor(datum.value*1.07842%60) < 10 ? '0' : '') + floor(datum.value*1.07842%60)",
        "labelColor": "#b81414",
        "labelAlign": "center",
        "labelBaseline": "alphabetic",
        "labelPadding": -2,
        "labelFlush": false,
        "grid": true
      }
    }
  },
  "layer": [
    {
      "data": {"name": "cells"},
      "transform": [
        {"fold": ["c01", "c02", "c03", "c04", "c05", "c06", "c07", "c08", "c09", "c10", "c11", "c12", "c13", "c14"], "as": ["series", "v"]},
        {"filter": "isValid(datum.v)"}
      ],
      "mark": {"type": "line", "interpolate": "step-after", "strokeWidth": 1.25, "clip": true},
      "encoding": {
        "y": {
          "field": "v",
          "type": "quantitative",
          "scale": {"domain": [3200, 3700], "nice": false, "zero": false},
          "axis": {
            "orient": "left",
            "title": null,
            "values": [3200, 3300, 3400, 3500, 3600, 3700],
            "format": "d",
            "labelAlign": "left",
            "labelBaseline": {"condition": {"test": "datum.value <= 3200", "value": "bottom"}, "value": "top"},
            "labelFlush": false,
            "labelPadding": -3,
            "labelColor": "#2323a8",
            "grid": true
          }
        },
        "color": {
          "field": "series",
          "type": "nominal",
          "legend": null,
          "scale": {
            "domain": ["g1", "g2", "b1", "c01", "c02", "c03", "c04", "c05", "c06", "c07", "c08", "c09", "c10", "c11", "c12", "c13", "c14"],
            "range": ["#5db812", "#80d22a", "#3a8ee0", "#4fa6ee", "#0b5cad", "#e4448e", "#92d92c", "#3a8de0", "#c8156e", "#5fb614", "#a2e03c", "#e0509a", "#0a58a8", "#2f86da", "#66bb22", "#5aaaf0", "#c0106a"]
          }
        }
      }
    },
    {
      "data": {"name": "pack"},
      "transform": [
        {"fold": ["g1", "g2", "b1"], "as": ["series", "v"]},
        {"filter": "isValid(datum.v)"}
      ],
      "mark": {"type": "line", "interpolate": "step-after", "strokeWidth": 1.25, "clip": true},
      "encoding": {
        "y": {
          "field": "v",
          "type": "quantitative",
          "scale": {"domain": [64, 74], "nice": false, "zero": false},
          "axis": {
            "orient": "right",
            "title": null,
            "values": [64, 66, 68, 70, 72, 74],
            "format": "d",
            "labelAlign": "right",
            "labelBaseline": {"condition": {"test": "datum.value <= 64", "value": "bottom"}, "value": "top"},
            "labelFlush": false,
            "labelPadding": -16,
            "labelColor": "#2323a8",
            "grid": false
          }
        },
        "color": {
          "field": "series",
          "type": "nominal",
          "legend": null,
          "scale": {
            "domain": ["g1", "g2", "b1", "c01", "c02", "c03", "c04", "c05", "c06", "c07", "c08", "c09", "c10", "c11", "c12", "c13", "c14"],
            "range": ["#5db812", "#80d22a", "#3a8ee0", "#4fa6ee", "#0b5cad", "#e4448e", "#92d92c", "#3a8de0", "#c8156e", "#5fb614", "#a2e03c", "#e0509a", "#0a58a8", "#2f86da", "#66bb22", "#5aaaf0", "#c0106a"]
          }
        }
      }
    }
  ],
  "resolve": {"scale": {"y": "independent"}, "axis": {"y": "independent"}}
}
